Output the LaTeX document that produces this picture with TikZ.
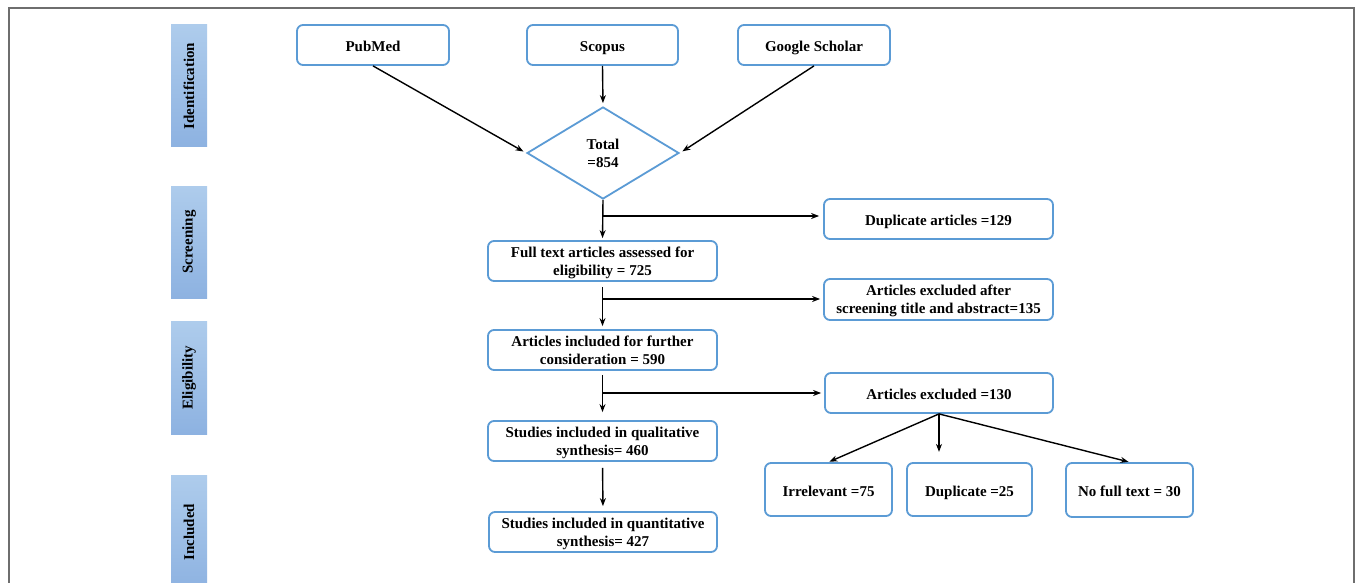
\documentclass[tikz,border=0pt]{standalone}
\usepackage{fontspec}
\setmainfont{Liberation Serif}
\usetikzlibrary{arrows.meta,shapes.geometric}
\definecolor{boxblue}{HTML}{5B9BD5}
\definecolor{bartop}{HTML}{AECCEC}
\definecolor{barbot}{HTML}{8DB2E1}
\definecolor{framegray}{HTML}{6E6E6E}
\tikzset{
  every node/.style={font=\bfseries\fontsize{15}{18}\selectfont, text=black},
  fbox/.style={draw=boxblue, line width=1.8pt, rounded corners=6pt, fill=white, align=center, inner sep=1pt},
  one/.style={text height=13pt, text depth=0pt},
  two/.style={text depth=-1.5pt},
  dbox/.style={draw=boxblue, line width=1.8pt, diamond, fill=white, align=center, inner sep=0pt},
  sidebar/.style={top color=bartop, bottom color=barbot, draw=none, minimum width=36pt, inner sep=0pt},
  arr/.style={draw=black, line width=1.4pt, -{Stealth[length=8pt,width=6pt]}}
}
\begin{document}
\begin{tikzpicture}[x=1pt,y=-1pt]
\useasboundingbox (0,0) rectangle (1355,583);
\fill[white] (0,0) rectangle (1355,583);
\draw[framegray, line width=1.3pt] (9,590) -- (9,8) -- (1354,8) -- (1354,590);

% side bars
\node[sidebar, minimum height=122pt] (s1) at (189,86) {};
\node[rotate=90] (t1) at (s1.center) {Identification};
\node[sidebar, minimum height=112pt] (s2) at (189,242) {};
\node[rotate=90] (t2) at (s2.center) {Screening};
\node[sidebar, minimum height=113pt] (s3) at (189,377.5) {};
\node[rotate=90] (t3) at (s3.center) {Eligibility};
\node[sidebar, minimum height=116pt] (s4) at (189,533) {};
\node[rotate=90] (t4) at (189,532) {Included};

% sources
\node[fbox, one, minimum width=152pt, minimum height=40pt] (pm) at (373,45) {PubMed};
\node[fbox, one, minimum width=151pt, minimum height=40pt] (sc) at (602.5,45) {Scopus};
\node[fbox, one, minimum width=152pt, minimum height=40pt] (gs) at (814,45) {Google Scholar};
\node[dbox, minimum width=152pt, minimum height=92pt] (d) at (603,153) {Total\\=854};

% main column
\node[fbox, two, minimum width=229pt, minimum height=40pt] (ft) at (602.5,261) {Full text articles assessed for\\eligibility = 725};
\node[fbox, two, minimum width=229pt, minimum height=40pt] (ai) at (602.5,350) {Articles included for further\\consideration = 590};
\node[fbox, two, minimum width=229pt, minimum height=40pt] (q1) at (602.5,441) {Studies included in qualitative\\synthesis= 460};
\node[fbox, two, minimum width=228pt, minimum height=40pt] (q2) at (603,532) {Studies included in quantitative\\synthesis= 427};

% right column
\node[fbox, one, minimum width=229pt, minimum height=40pt] (dup) at (938.5,219) {Duplicate articles =129};
\node[fbox, two, minimum width=229pt, minimum height=41pt] (ae) at (938.5,299.5) {Articles excluded after\\screening title and abstract=135};
\node[fbox, one, minimum width=228pt, minimum height=40pt] (ex) at (939,393) {Articles excluded =130};
\node[fbox, one, minimum width=127pt, minimum height=53pt] (irr) at (828.5,489.5) {Irrelevant =75};
\node[fbox, one, minimum width=125pt, minimum height=53pt] (d25) at (969.5,489.5) {Duplicate =25};
\node[fbox, one, minimum width=127pt, minimum height=54pt] (nft) at (1129.5,490) {No full text = 30};

% connectors
\draw[arr, shorten >=3pt] (pm.south) -- (d.west);
\draw[arr, shorten >=3pt] (sc.south) -- (d.north);
\draw[arr, shorten >=3pt] (gs.south) -- (d.east);

\draw[arr, shorten >=2pt] (d.south) -- (ft.north);
\coordinate (b1) at (d.south |- 0,216);
\draw[arr, shorten >=4pt] (b1) -- (b1 -| dup.west);

\draw[arr, shorten <=5pt, shorten >=3pt] (ft.south) -- (ai.north);
\coordinate (b2) at (ft.south |- 0,299);
\draw[arr, shorten >=3pt] (b2) -- (b2 -| ae.west);

\draw[arr, shorten <=4pt, shorten >=8pt] (ai.south) -- (q1.north);
\coordinate (b3) at (ai.south |- 0,393);
\draw[arr, shorten >=3pt] (b3) -- (b3 -| ex.west);

\draw[arr, shorten <=6pt, shorten >=5pt] (q1.south) -- (q2.north);

\coordinate (m) at ([yshift=-38pt]ex.south);
\draw[arr, shorten >=1pt] (ex.south) -- (irr.north);
\draw[arr] (ex.south) -- (m);
\draw[arr, shorten >=1pt] (ex.south) -- (nft.north);
\end{tikzpicture}
\end{document}
